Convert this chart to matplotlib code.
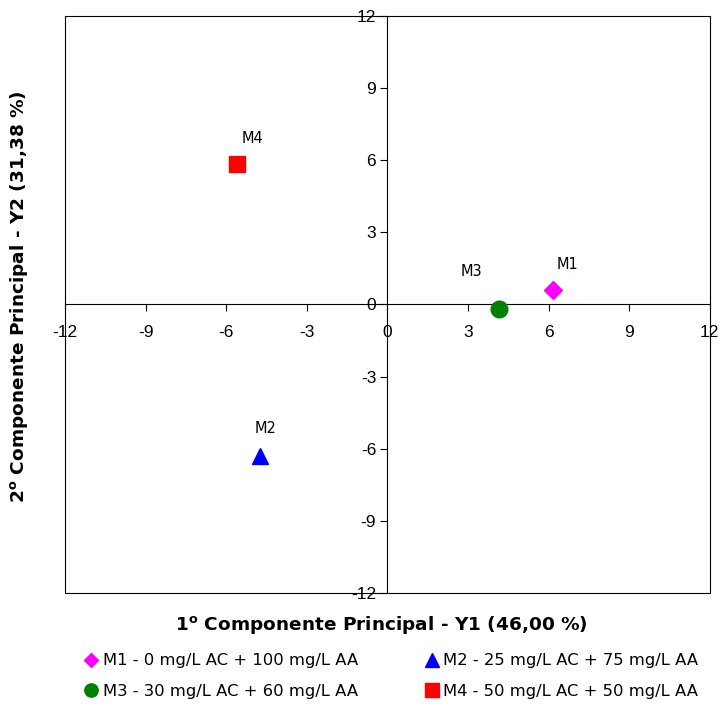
import matplotlib.pyplot as plt
from matplotlib.patches import Rectangle
from matplotlib.lines import Line2D

plt.rcParams['font.family'] = ['Liberation Sans', 'DejaVu Sans']

# scores nos dois primeiros componentes principais
nomes = ["M1", "M2", "M3", "M4"]
y1 = [6.15, -4.75, 4.15, -5.6]
y2 = [0.62, -6.3, -0.2, 5.85]
legendas = ["M1 - 0 mg/L AC + 100 mg/L AA",
            "M2 - 25 mg/L AC + 75 mg/L AA",
            "M3 - 30 mg/L AC + 60 mg/L AA",
            "M4 - 50 mg/L AC + 50 mg/L AA"]
ticks = [-12, -9, -6, -3, 0, 3, 6, 9, 12]

cores = ["#ff00ff", "#0000ff", "#008000", "#ff0000"]
marcadores = ["D", "^", "o", "s"]
tamanhos = [9, 12, 12, 12]
desloc = [(11, 18), (4, 20), (-20, 27), (11, 18)]

fonte_larga = ['DejaVu Sans']

fig = plt.figure(figsize=(7.22, 7.04), dpi=100)
ax = fig.add_axes([0.090, 0.158, 0.893, 0.819])

for i in range(len(nomes)):
    ax.plot(y1[i], y2[i], marker=marcadores[i], color=cores[i], ms=tamanhos[i],
            linestyle="none", zorder=5, clip_on=False)
    ax.annotate(nomes[i], (y1[i], y2[i]), xytext=desloc[i], textcoords="offset points",
                ha="center", va="center", fontsize=10.5, family=fonte_larga)

ax.set_xlim(-12, 12)
ax.set_ylim(-12, 12)
ax.set_xticks(ticks)
ax.set_yticks(ticks)
ax.set_xticklabels([str(t) for t in ticks])
ax.set_yticklabels([str(t) for t in ticks])

ax.spines["left"].set_position("zero")
ax.spines["bottom"].set_position("zero")
for s in ax.spines.values():
    s.set_linewidth(0.8)
ax.spines["top"].set_visible(False)
ax.spines["right"].set_visible(False)
ax.add_patch(Rectangle((0, 0), 1, 1, transform=ax.transAxes, fill=False,
                       lw=0.8, ec="black", clip_on=False, zorder=1))

ax.tick_params(axis="x", direction="out", length=5, width=0.8, pad=10, labelsize=12.5)
ax.tick_params(axis="y", direction="out", length=5, width=0.8, pad=3, labelsize=12.5)

fig.text(0.528, 0.112, r"1$^{\mathregular{o}}$ Componente Principal - Y1 (46,00 %)",
         ha="center", va="center", fontsize=13.3, fontweight="bold", family=fonte_larga)
fig.text(0.027, 0.578, r"2$^{\mathregular{o}}$ Componente Principal - Y2 (31,38 %)",
         ha="center", va="center", fontsize=13.3, fontweight="bold", rotation=90,
         family=fonte_larga)

handles = [Line2D([], [], marker=marcadores[i], color=cores[i], ms=tamanhos[i] * 0.8,
                  linestyle="none") for i in range(4)]
ordem = [0, 2, 1, 3]
fig.legend([handles[i] for i in ordem], [legendas[i] for i in ordem], ncol=2,
           loc="center", bbox_to_anchor=(0.540, 0.0395), frameon=False,
           prop={"family": fonte_larga, "size": 11.8},
           handletextpad=0.1, columnspacing=3.9, labelspacing=0.95, handlelength=1.2)

fig.savefig("out.png", dpi=100)
